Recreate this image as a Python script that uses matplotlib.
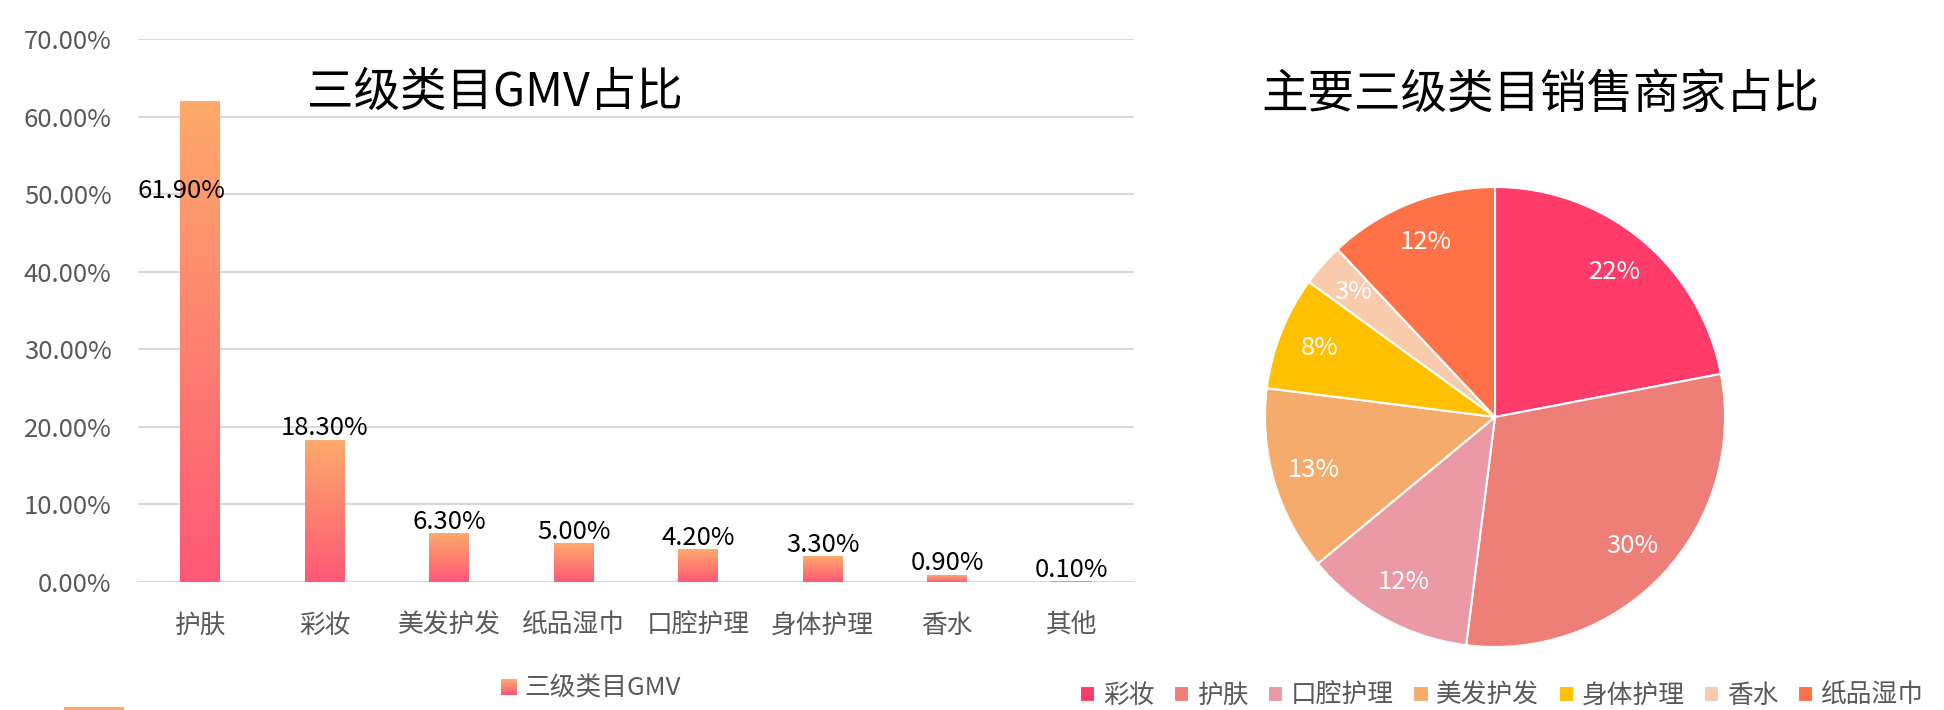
import numpy as np
import matplotlib
matplotlib.use('Agg')
import matplotlib.pyplot as plt
from matplotlib.patches import Rectangle
from matplotlib.legend_handler import HandlerBase
from matplotlib.colors import LinearSegmentedColormap
from matplotlib.ticker import FuncFormatter

plt.rcParams['font.family'] = ['Noto Sans CJK SC', 'DejaVu Sans']

# bar chart data
categories = ['护肤', '彩妆', '美发护发', '纸品湿巾', '口腔护理', '身体护理', '香水', '其他']
gmv_share = [0.619, 0.183, 0.063, 0.050, 0.042, 0.033, 0.009, 0.001]
bar_legend = '三级类目GMV'

# pie chart data
pie_labels = ['彩妆', '护肤', '口腔护理', '美发护发', '身体护理', '香水', '纸品湿巾']
pie_share = [22, 30, 12, 13, 8, 3, 12]
pie_colors = ['#FF3B6A', '#EE7E78', '#EC99A6', '#F5AB6B', '#FFC000', '#F8CBAD', '#FF7146']

grad = LinearSegmentedColormap.from_list('g', ['#FF5876', '#FDAA6B'])
gray = '#595959'
fs = 18.5
W, H = 1944, 710


class GradHandler(HandlerBase):
    def create_artists(self, legend, orig, xd, yd, w, h, fontsize, trans):
        n = 12
        return [Rectangle((-xd, -yd + h * k / n), w, h / n * 1.05, facecolor=grad(k / (n - 1)),
                          lw=0, transform=trans) for k in range(n)]


fig = plt.figure(figsize=(W / 100, H / 100), dpi=100)

# ---- bar chart ----
ax = fig.add_axes([138 / W, 1 - 582 / H, 996 / W, 543 / H])
x = np.arange(len(categories))
bars = ax.bar(x, gmv_share, width=0.32, color='none', label=bar_legend)
g = np.linspace(0, 1, 256).reshape(-1, 1)
for b in bars:
    x0, w, h = b.get_x(), b.get_width(), b.get_height()
    ax.imshow(g, cmap=grad, origin='lower', aspect='auto', extent=(x0, x0 + w, 0, h), zorder=2)

for i, v in enumerate(gmv_share):
    if i == 0:
        ax.text(i - 0.15, v - 0.115, f'{v * 100:.2f}%', ha='center', va='center', fontsize=fs, zorder=3)
    else:
        ax.annotate(f'{v * 100:.2f}%', (i, v), xytext=(0, -1), textcoords='offset points',
                    ha='center', va='bottom', fontsize=fs, zorder=3)

ax.set_xlim(-0.5, len(categories) - 0.5)
ax.set_ylim(0, 0.70)
ax.set_yticks(np.arange(0, 0.701, 0.1))
ax.yaxis.set_major_formatter(FuncFormatter(lambda v, p: f'{v * 100:.2f}%'))
ax.set_xticks(x)
ax.set_xticklabels(categories)
ax.tick_params(axis='both', length=0, labelsize=fs, labelcolor=gray)
ax.tick_params(axis='x', pad=22)
ax.tick_params(axis='y', pad=19)
ax.yaxis.grid(True, color='#D9D9D9', lw=1.5)
ax.set_axisbelow(True)
for s in ax.spines.values():
    s.set_visible(False)

leg = ax.legend(handler_map={type(bars): GradHandler()}, loc='center',
                bbox_to_anchor=(591 / W, 1 - 689 / H), bbox_transform=fig.transFigure,
                frameon=False, fontsize=fs, handlelength=0.6, handleheight=0.6, handletextpad=0.3)
for t in leg.get_texts():
    t.set_color(gray)

fig.text(495 / W, 1 - 93 / H, '三级类目GMV占比', ha='center', va='center', fontsize=33.5)

# ---- pie chart ----
pax = fig.add_axes([(1495 - 250) / W, (H - 417 - 250) / H, 500 / W, 500 / H])
wedges, texts, autotexts = pax.pie(pie_share, colors=pie_colors, startangle=90, counterclock=False,
                                   autopct=lambda p: f'{p:.0f}%', pctdistance=0.82,
                                   wedgeprops=dict(edgecolor='white', linewidth=1.5),
                                   textprops=dict(color='white', fontsize=fs))
lim = 250 / 230
pax.set_xlim(-lim, lim)
pax.set_ylim(-lim, lim)
pax.set_aspect('equal')

pleg = fig.legend(wedges, pie_labels, loc='center', bbox_to_anchor=(1502 / W, 1 - 696 / H), ncol=7,
                  frameon=False, fontsize=fs, handlelength=0.6, handleheight=0.6,
                  handletextpad=0.3, columnspacing=0.75)
for t in pleg.get_texts():
    t.set_color(gray)

fig.text(1540 / W, 1 - 95 / H, '主要三级类目销售商家占比', ha='center', va='center', fontsize=33.5)

# small orange mark at the bottom edge
fig.add_artist(Rectangle((64 / W, 0), 60 / W, 3 / H, transform=fig.transFigure,
                         facecolor='#FFA86A', lw=0))

fig.savefig('out.png', dpi=100)
